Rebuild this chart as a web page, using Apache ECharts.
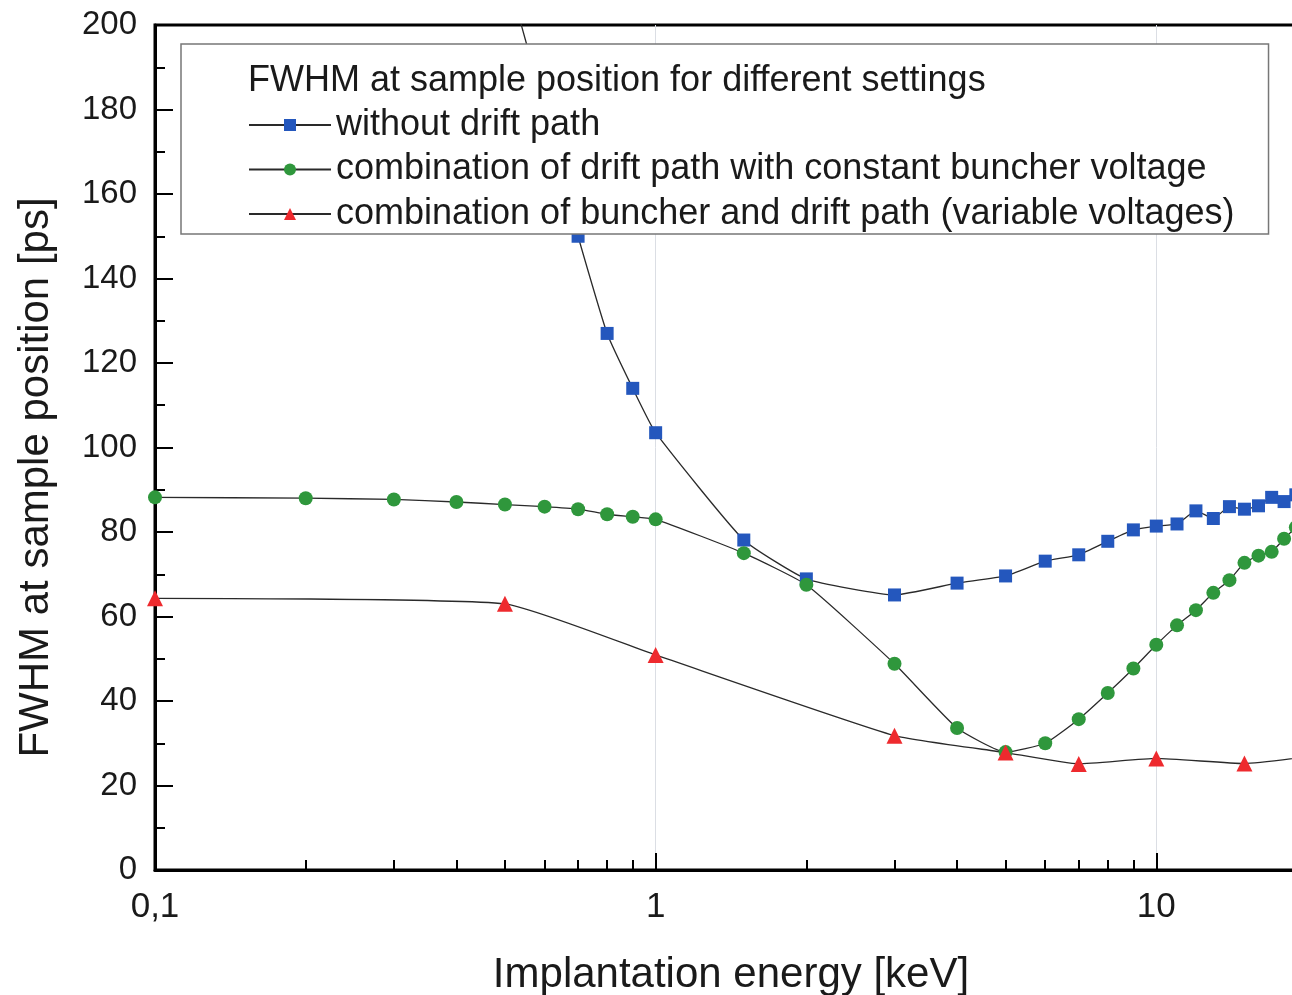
<!DOCTYPE html>
<html>
<head>
<meta charset="utf-8">
<script src="https://cdn.jsdelivr.net/npm/echarts@6/dist/echarts.min.js"></script>
<style>
html,body{margin:0;padding:0;background:#fff;}
#chart{width:1292px;height:995px;}
</style>
</head>
<body>
<div id="chart"></div>
<script>
// ---- data ----
const seriesNames = [
  'without drift path',
  'combination of drift path with constant buncher voltage',
  'combination of buncher and drift path (variable voltages)'
];
const legendTitle = 'FWHM at sample position for different settings';
const xAxisName = 'Implantation energy [keV]';
const yAxisName = 'FWHM at sample position [ps]';

const blueX = [0.5, 0.6, 0.7, 0.8, 0.9, 1, 1.5, 2, 3, 4, 5, 6, 7, 8, 9, 10, 11, 12, 13, 14, 15, 16, 17, 18, 19];
const blueY = [214, 180, 150, 127, 114, 103.5, 78.1, 68.9, 65.1, 67.9, 69.6, 73.1, 74.6, 77.8, 80.5, 81.4, 81.9, 85.0, 83.2, 86.0, 85.4, 86.2, 88.2, 87.2, 88.8];

const greenX = [0.1, 0.2, 0.3, 0.4, 0.5, 0.6, 0.7, 0.8, 0.9, 1, 1.5, 2, 3, 4, 5, 6, 7, 8, 9, 10, 11, 12, 13, 14, 15, 16, 17, 18, 19];
const greenY = [88.2, 88.0, 87.7, 87.1, 86.5, 86.0, 85.4, 84.2, 83.6, 83.0, 75.0, 67.5, 48.8, 33.6, 27.9, 30.0, 35.7, 41.9, 47.7, 53.3, 57.9, 61.5, 65.6, 68.6, 72.7, 74.4, 75.3, 78.4, 81.1];

const redX = [0.1, 0.5, 1, 3, 5, 7, 10, 15, 20];
const redY = [64.3, 63.0, 50.9, 31.8, 27.8, 25.1, 26.4, 25.2, 26.8];

const xMajorTicks = [0.1, 1, 10];
const xMinorTicks = [0.2, 0.3, 0.4, 0.5, 0.6, 0.7, 0.8, 0.9, 2, 3, 4, 5, 6, 7, 8, 9];
const yMin = 0, yMax = 200, yStep = 20;
const xMin = 0.1, xMax = 20;

// ---- chart ----
const FONT = '"Liberation Sans", Arial, Helvetica, sans-serif';
const TXT = '#1a1a1a';
const zip = (xs, ys) => xs.map((x, i) => [x, ys[i]]);

const chart = echarts.init(document.getElementById('chart'), null, {renderer: 'canvas'});

const lineStyle = {color: '#2a2a2a', width: 1.3};

// helper for tick-only log axes (same scale as the main x axis)
function tickAxis(values, len) {
  return {
    type: 'log', logBase: 10, min: xMin, max: xMax, position: 'bottom', offset: 0,
    axisLine: {show: true, lineStyle: {color: 'rgba(0,0,0,0)', width: 1}},
    axisTick: {show: true, inside: false, length: -len, lineStyle: {color: '#000', width: 2}, customValues: values},
    axisLabel: {show: false},
    splitLine: {show: false}
  };
}

chart.setOption({
  animation: false,
  backgroundColor: '#fff',
  textStyle: {fontFamily: FONT},
  title: {
    text: legendTitle,
    left: 248, top: 61, padding: 0,
    textStyle: {fontFamily: FONT, fontSize: 36, fontWeight: 'normal', color: TXT, lineHeight: 40}
  },
  legend: {
    data: seriesNames,
    orient: 'vertical',
    left: 181, top: 44,
    padding: [61, 34, 0, 67],
    itemGap: 4.5,
    itemWidth: 82, itemHeight: 15,
    backgroundColor: '#fff',
    borderColor: '#777', borderWidth: 1.5,
    selectedMode: false,
    textStyle: {fontFamily: FONT, fontSize: 36, color: TXT, lineHeight: 40}
  },
  grid: {
    left: 155, top: 25, bottom: 125, width: 1152,
    outerBoundsMode: 'none',
    show: true, borderColor: '#000', borderWidth: 3
  },
  xAxis: [{
    type: 'log', logBase: 10, min: xMin, max: xMax, position: 'bottom',
    name: xAxisName, nameLocation: 'middle', nameGap: 84,
    nameTextStyle: {fontFamily: FONT, fontSize: 42, color: TXT},
    axisLine: {onZero: false, lineStyle: {color: '#000', width: 3}},
    axisTick: {show: true, inside: true, length: 17, lineStyle: {color: '#000', width: 2}, customValues: xMajorTicks},
    axisLabel: {
      customValues: xMajorTicks, margin: 20,
      fontFamily: FONT, fontSize: 35, color: TXT,
      formatter: v => String(v).replace('.', ',')
    }
  },
  tickAxis(xMajorTicks, 17),
  tickAxis(xMinorTicks, 10)
  ],
  yAxis: {
    type: 'value', min: yMin, max: yMax, interval: yStep,
    name: yAxisName, nameLocation: 'middle', nameGap: 98,
    nameTextStyle: {fontFamily: FONT, fontSize: 42, color: TXT, padding: [0, 60, 0, 0]},
    axisLine: {show: true, lineStyle: {color: '#000', width: 3}},
    axisTick: {show: true, inside: true, length: 18, lineStyle: {color: '#000', width: 2}},
    minorTick: {show: true, splitNumber: 2, length: 10, lineStyle: {color: '#000', width: 2}},
    axisLabel: {margin: 18, fontFamily: FONT, fontSize: 33, color: TXT},
    splitLine: {show: false}
  },
  series: [{
    name: seriesNames[0], type: 'line', xAxisIndex: 0,
    data: zip(blueX, blueY), smooth: 0.15,
    symbol: 'rect', symbolSize: 13,
    itemStyle: {color: '#2457bd'}, lineStyle: lineStyle
  }, {
    name: seriesNames[1], type: 'line', xAxisIndex: 0,
    data: zip(greenX, greenY), smooth: 0.15,
    symbol: 'circle', symbolSize: 14,
    itemStyle: {color: '#2f973c'}, lineStyle: lineStyle
  }, {
    name: seriesNames[2], type: 'line', xAxisIndex: 0,
    data: zip(redX, redY), smooth: 0.15,
    symbol: 'triangle', symbolSize: 16,
    itemStyle: {color: '#ee2a2e'}, lineStyle: lineStyle
  }]
});
</script>
</body>
</html>
